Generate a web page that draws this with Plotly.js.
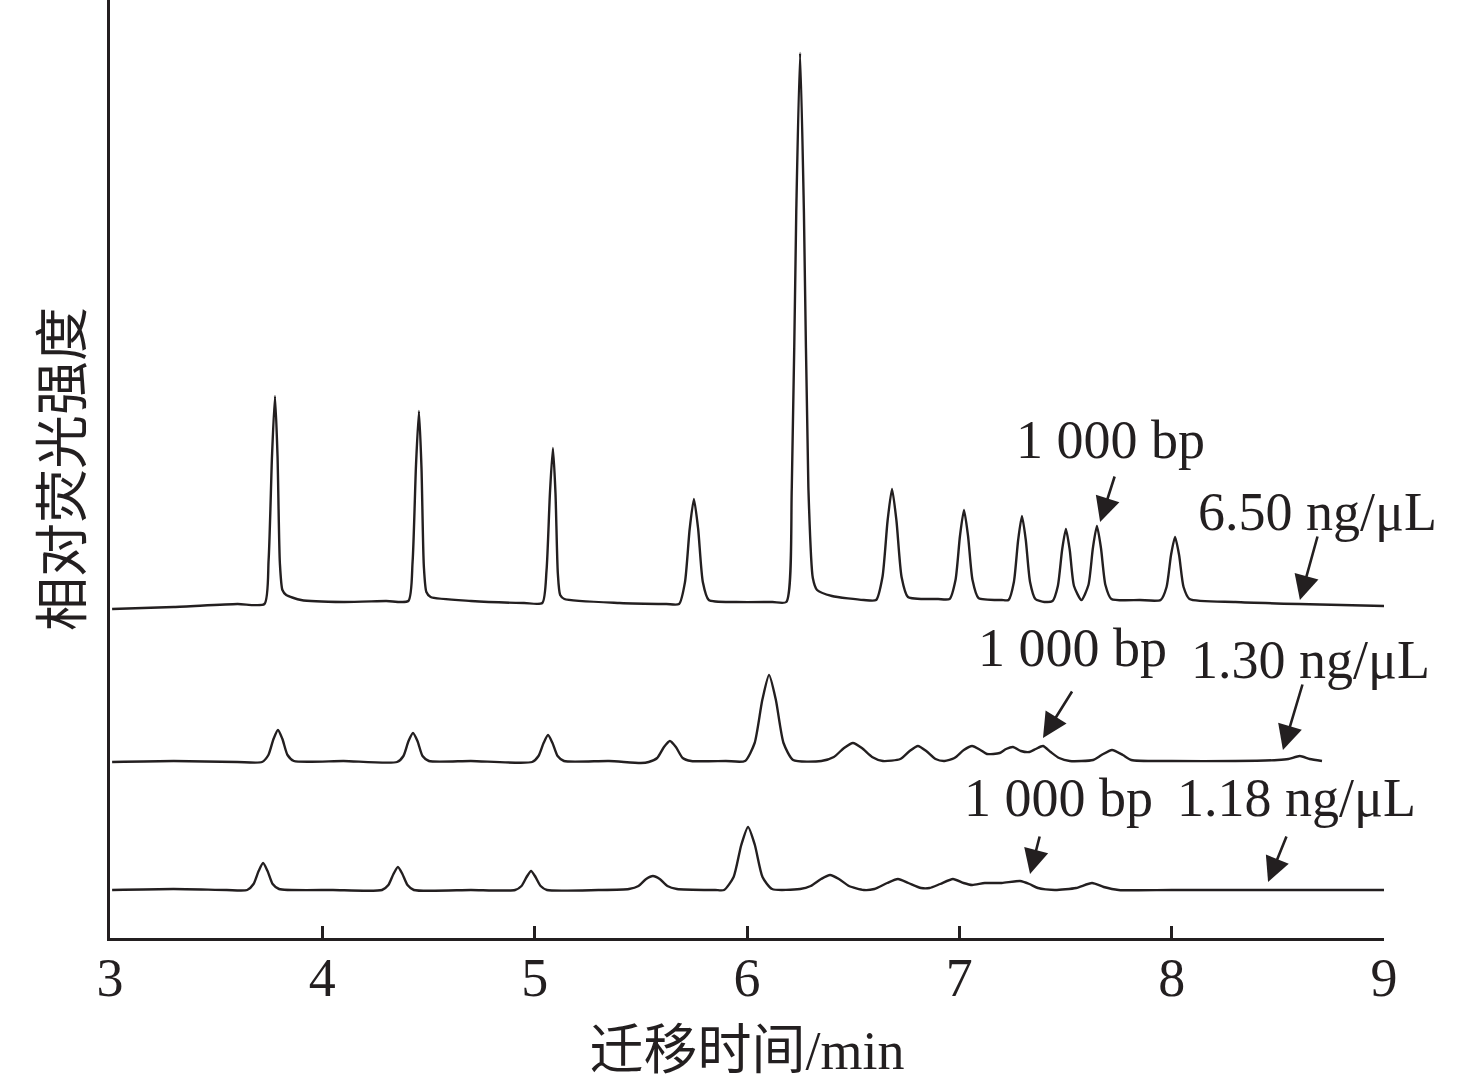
<!DOCTYPE html>
<html>
<head>
<meta charset="utf-8">
<script src="https://cdn.plot.ly/plotly-3.0.1.min.js"></script>
<style>html,body{margin:0;padding:0;background:#fff;}#chart{width:1476px;height:1086px;}</style>
</head>
<body>
<div id="chart"></div>
<script>
// Migration time (min) and relative fluorescence intensity (offset traces, arbitrary units)
const topTime = [3.01,3.3,3.6,
  3.727,3.747,3.763,3.777,3.789,3.800,3.812,3.83,3.9,4.1,4.3,
  4.405,4.425,4.441,4.455,4.467,4.478,4.49,4.51,4.7,4.95,
  5.036,5.056,5.072,5.086,5.098,5.109,5.12,5.14,5.4,5.62,
  5.68,5.708,5.73,5.75,5.77,5.792,5.82,5.95,6.12,
  6.185,6.211,6.232,6.25,6.268,6.289,6.31,6.33,6.4,6.55,
  6.608,6.638,6.662,6.683,6.704,6.728,6.758,6.9,
  6.954,6.982,7.003,7.022,7.041,7.062,7.09,7.2,
  7.232,7.257,7.277,7.295,7.313,7.333,7.358,7.40,
  7.439,7.464,7.484,7.502,7.520,7.540,7.575,
  7.608,7.629,7.648,7.667,7.688,7.716,7.85,
  7.948,7.976,7.997,8.016,8.035,8.056,8.084,8.3,8.6,8.8,9.0];
const topSignal = [329,331,334,
  334,378,482,542,482,375,348,343,338,336,337,
  337,376,472,527,470,372,346,341,337,335,
  335,368,445,490,445,365,343,339,335,334,
  334,356,409,439,409,356,338,336,336,
  336,451,726,885,726,451,360,348,342,338,
  338,361,417,449,417,361,341,339,
  339,358,402,428,402,358,340,338,
  338,356,398,422,398,356,339,336,
  337,352,388,409,388,352,338,
  353,390,412,390,353,339,338,
  338,351,383,401,383,351,339,336,334,333,332];

const midTime = [3.01,3.3,3.6,
  3.716,3.746,3.770,3.791,3.812,3.836,3.866,4.1,
  4.352,4.382,4.406,4.427,4.448,4.472,4.502,4.7,
  4.988,5.018,5.042,5.063,5.084,5.108,5.138,5.35,5.5,
  5.537,5.577,5.609,5.637,5.665,5.697,5.737,5.9,
  5.991,6.036,6.072,6.104,6.136,6.172,6.217,6.35,
  6.409,6.457,6.499,6.541,6.589,6.64,
  6.722,6.766,6.805,6.844,6.888,6.93,
  6.977,7.021,7.060,7.099,7.13,
  7.19,7.22,7.253,7.29,7.33,
  7.36,7.394,7.43,7.47,7.52,
  7.63,7.67,7.719,7.77,7.81,8.0,8.3,8.5,
  8.55,8.604,8.65,8.708];
const midSignal = [176,177,176,
  176,183,199,208,199,183,177,177,
  176,182,197,205,197,182,177,177,
  176,182,195,203,195,182,177,177,175,
  176,180,191,197,191,180,177,177,
  177,195,238,263,238,195,178,177,
  181,190,195,190,181,177,
  179,187,192,187,179,177,
  180,188,192,188,184,
  185,189,191,187,186,
  189,192,186,180,177,
  178,183,188,183,178,177,177,178,
  179,182,179,177];

const lowTime = [3.01,3.3,3.55,
  3.646,3.676,3.700,3.721,3.742,3.766,3.796,4.05,
  4.281,4.311,4.335,4.356,4.377,4.401,4.431,4.7,
  4.908,4.938,4.962,4.983,5.004,5.028,5.058,5.3,
  5.444,5.489,5.525,5.557,5.589,5.625,5.67,5.85,
  5.892,5.937,5.973,6.005,6.037,6.073,6.118,6.25,
  6.30,6.349,6.391,6.433,6.48,6.55,
  6.6,6.66,6.711,6.76,6.82,6.86,
  6.91,6.970,7.02,7.06,7.12,7.2,7.286,7.33,7.37,7.45,
  7.55,7.625,7.68,7.75,8.0,8.5,9.0];
const lowSignal = [48,49,48,
  48,54,67,75,67,54,49,48,
  48,53,64,71,64,53,48,48,
  48,52,61,67,61,52,48,48,
  49,52,59,62,59,52,49,48,
  48,61,93,111,93,61,49,49,
  52,59,63,59,52,48,
  49,55,59,55,50,50,
  54,59,55,53,55,55,57,54,50,48,
  50,55,51,48,48,48,48];

const xTicks = [3,4,5,6,7,8,9];
const xTitle = '迁移时间/min';
const yTitle = '相对荧光强度';

// Labels: text, anchor (time, intensity)
const labelTexts = ['1 000 bp','6.50 ng/μL','1 000 bp','1.30 ng/μL','1 000 bp','1.18 ng/μL'];
const labelTime  = [7.710, 8.689, 7.535, 8.652, 7.465, 8.590];
const labelValue = [498, 426, 290, 278, 140, 140];
// Arrow tips (time, intensity)
const arrowTime  = [7.663, 8.604, 7.394, 8.524, 7.333, 8.454];
const arrowValue = [416, 338, 200, 188, 64, 56];
const arrowDx = [15, 18, 30, 20, 10, 19];
const arrowDy = [-47, -65, -48, -67, -39, -47];

const ink = '#231f20';
const serif = '"Liberation Serif", "Times New Roman", "Noto Sans CJK SC", serif';

const lineStyle = {color: ink, width: 2.4, shape: 'spline', smoothing: 0.6};
const traces = [
  {x: topTime, y: topSignal, mode: 'lines', line: lineStyle, hoverinfo: 'skip'},
  {x: midTime, y: midSignal, mode: 'lines', line: lineStyle, hoverinfo: 'skip'},
  {x: lowTime, y: lowSignal, mode: 'lines', line: lineStyle, hoverinfo: 'skip'}
];

const annotations = [];
labelTexts.forEach((t, i) => {
  annotations.push({x: labelTime[i], y: labelValue[i], xref: 'x', yref: 'y', text: t,
    showarrow: false, font: {family: serif, size: 54, color: ink}, xanchor: 'center', yanchor: 'middle'});
});
arrowTime.forEach((t, i) => {
  annotations.push({x: t, y: arrowValue[i], xref: 'x', yref: 'y', text: '', showarrow: true,
    ax: arrowDx[i], ay: arrowDy[i], arrowhead: 2, arrowsize: 1.9, arrowwidth: 2.6,
    arrowcolor: ink, standoff: 0});
});

const layout = {
  width: 1476, height: 1086,
  margin: {l: 110, r: 92, t: 0, b: 148},
  paper_bgcolor: '#fff', plot_bgcolor: '#fff',
  showlegend: false,
  font: {family: serif, color: ink},
  xaxis: {
    range: [3, 9], tickvals: xTicks, ticktext: xTicks.map(String),
    showline: true, linecolor: ink, linewidth: 3, mirror: false,
    ticks: 'inside', ticklen: 12, tickwidth: 3, tickcolor: ink,
    showgrid: false, zeroline: false,
    tickfont: {family: serif, size: 54, color: ink},
    ticklabelstandoff: -10,
    title: {text: xTitle, font: {family: serif, size: 54, color: ink}, standoff: 25}
  },
  yaxis: {
    range: [0, 938], showline: true, linecolor: ink, linewidth: 3,
    showticklabels: false, ticks: '', showgrid: false, zeroline: false,
    title: {text: yTitle, font: {family: serif, size: 54, color: ink}, standoff: 8}
  },
  annotations: annotations
};

Plotly.newPlot('chart', traces, layout, {displayModeBar: false, staticPlot: true});
</script>
</body>
</html>
